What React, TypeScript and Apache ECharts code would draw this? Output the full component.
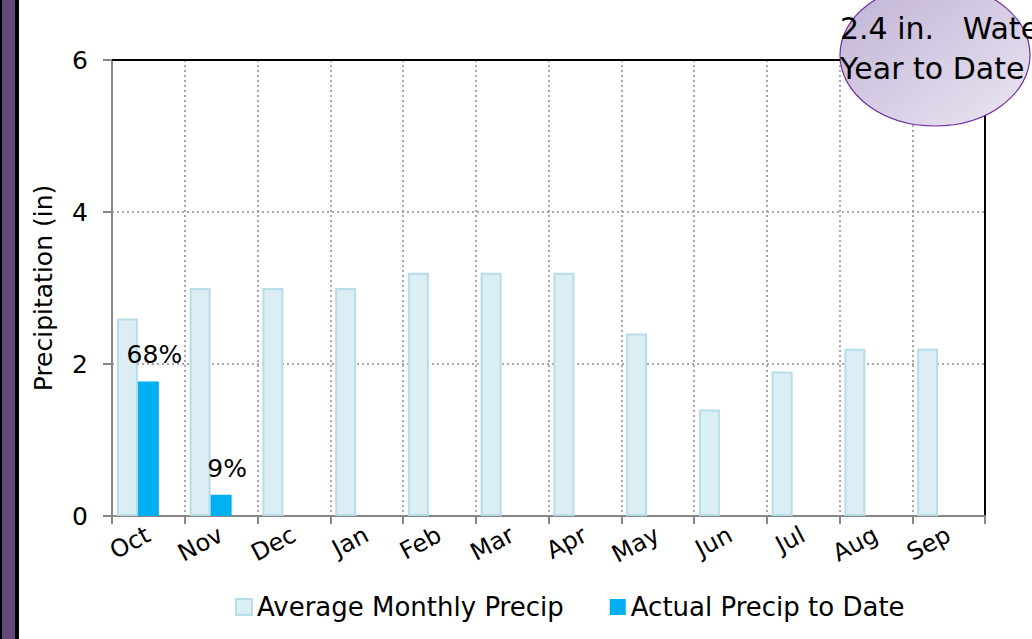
import React, { useEffect, useRef } from "react";
import * as echarts from "echarts";

const months = ["Oct", "Nov", "Dec", "Jan", "Feb", "Mar", "Apr", "May", "Jun", "Jul", "Aug", "Sep"];
const averagePrecip = [2.6, 3.0, 3.0, 3.0, 3.2, 3.2, 3.2, 2.4, 1.4, 1.9, 2.2, 2.2];
const actualPrecip: (number | null)[] = [1.77, 0.28, null, null, null, null, null, null, null, null, null, null];
const percentLabels = ["68%", "9%", "", "", "", "", "", "", "", "", "", ""];
const calloutLines = ["2.4 in.   Water", "Year to Date"];

const FONT = "DejaVu Sans";

export default function App() {
  const ref = useRef<HTMLDivElement>(null);
  useEffect(() => {
    if (!ref.current) return;
    const chart = echarts.init(ref.current, undefined, { renderer: "svg" });
    chart.setOption({
      animation: false,
      backgroundColor: "#ffffff",
      textStyle: { fontFamily: FONT, color: "#000" },
      grid: {
        left: 112,
        right: 47,
        top: 60,
        bottom: 123,
        show: false,
      },
      legend: {
        bottom: 14,
        left: 230,
        itemWidth: 16,
        itemHeight: 16,
        itemGap: 46,
        icon: "rect",
        data: ["Average Monthly Precip", "Actual Precip to Date"],
        textStyle: { fontFamily: FONT, fontSize: 26, color: "#000" },
      },
      xAxis: [
        {
          type: "category",
          data: months,
          axisLine: { lineStyle: { color: "#868686", width: 2 } },
          axisTick: { show: true, length: 8, lineStyle: { color: "#868686", width: 2 } },
          splitLine: { show: true, showMaxLine: false, lineStyle: { color: "#8c8c8c", type: [2, 3], width: 1.5 } },
          axisLabel: {
            rotate: 28,
            fontFamily: FONT,
            fontSize: 24,
            color: "#000",
            margin: 17,
            interval: 0,
          },
        },
        {
          type: "category",
          position: "top",
          data: months,
          axisLine: { show: true, onZero: false, lineStyle: { color: "#000", width: 2 } },
          axisTick: { show: false },
          axisLabel: { show: false },
          splitLine: { show: false },
        },
      ],
      yAxis: [
        {
          type: "value",
          min: 0,
          max: 6,
          interval: 2,
          name: "Precipitation (in)",
          nameLocation: "middle",
          nameGap: 56,
          nameTextStyle: { fontFamily: FONT, fontSize: 25, color: "#000" },
          axisLine: { show: true, lineStyle: { color: "#868686", width: 2 } },
          axisTick: { show: true, length: 9, lineStyle: { color: "#868686", width: 2 } },
          splitLine: { show: true, showMaxLine: false, showMinLine: false, lineStyle: { color: "#8c8c8c", type: [2, 3], width: 1.5 } },
          axisLabel: { fontFamily: FONT, fontSize: 25, color: "#000", margin: 24 },
        },
        {
          type: "value",
          position: "right",
          min: 0,
          max: 6,
          interval: 2,
          axisLine: { show: true, onZero: false, lineStyle: { color: "#000", width: 2 } },
          axisTick: { show: false },
          axisLabel: { show: false },
          splitLine: { show: false },
        },
      ],
      series: [
        {
          name: "Average Monthly Precip",
          type: "bar",
          data: averagePrecip,
          barWidth: 21,
          barGap: "0%",
          itemStyle: { color: "#daeef3", borderColor: "#b7dde8", borderWidth: 2 },
        },
        {
          name: "Actual Precip to Date",
          type: "bar",
          data: actualPrecip,
          barWidth: 21,
          barGap: "0%",
          itemStyle: { color: "#00b0f0" },
          label: {
            show: true,
            position: "top",
            distance: 14,
            offset: [6, 0],
            fontFamily: FONT,
            fontSize: 25,
            color: "#000",
            formatter: (p: any) => percentLabels[p.dataIndex] || "",
          },
        },
        {
          name: "spacer",
          type: "bar",
          data: months.map(() => null),
          barWidth: 21,
          barGap: "0%",
        },
      ],
      graphic: [
        { type: "rect", shape: { x: 0, y: 0, width: 19, height: 639 }, style: { fill: "#000" }, z: 10 },
        { type: "rect", shape: { x: 2, y: 0, width: 13, height: 639 }, style: { fill: "#604a7b" }, z: 11 },
        {
          type: "ellipse",
          shape: { cx: 935, cy: 55, rx: 95, ry: 71 },
          style: {
            fill: new echarts.graphic.LinearGradient(0, 0, 1, 1, [
              { offset: 0, color: "#bfb1d5" },
              { offset: 1, color: "#ebe6f2" },
            ]),
            stroke: "#7030a0",
            lineWidth: 1.2,
          },
          z: 20,
        },
        {
          type: "text",
          x: 840,
          y: 8,
          style: {
            text: calloutLines.join("\n"),
            fontFamily: FONT,
            fontSize: 30,
            lineHeight: 40,
            fill: "#000",
          },
          z: 21,
        },
      ],
    });
    return () => chart.dispose();
  }, []);
  return (
    <div
      ref={ref}
      style={{ position: "absolute", left: 0, top: 0, width: 1032, height: 639, overflow: "hidden" }}
    />
  );
}
